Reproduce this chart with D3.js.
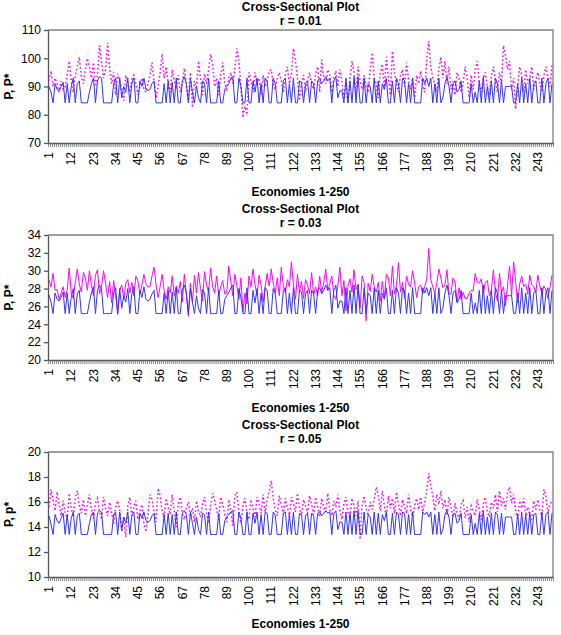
<!DOCTYPE html>
<html><head><meta charset="utf-8">
<script src="https://cdn.jsdelivr.net/npm/d3@7"></script>
<style>body{margin:0;background:#fff}svg{display:block}text{font-family:"Liberation Sans",Arial,sans-serif}</style>
</head><body>
<svg id="c" width="561" height="635"></svg>
<script>
const categories = d3.range(1, 251);
const xTickLabels = [1,12,23,34,45,56,67,78,89,100,111,122,133,144,155,166,177,188,199,210,221,232,243];
const titles = ["r = 0.01", "r = 0.03", "r = 0.05"];
const yTicks1 = [70,80,90,100,110];
const yTicks2 = [20,22,24,26,28,30,32,34];
const yTicks3 = [10,12,14,16,18,20];

const P_r01 = [
90,88,84.2,91,89,88.5,90,91.5,84.2,91,
84.2,90,93,84.2,91,92,84.2,84.2,84.2,84.2,
88,91,93,84.2,92,93.5,93,84.2,84.2,84.2,
84.2,84.2,91,93,84.2,93,86,90,88,93,
84.2,91,93,84.2,84.2,92,90,93,89,88.5,
89,91,92,84.2,84.2,84.2,84.2,91,84.2,92,
84.2,91.5,84.2,93,84.2,84.2,92,93.5,91,84.2,
93,88,84.2,90,86,84.2,92,91,84.2,93,
84.2,84.2,84.2,84.2,92,84.2,84.2,89,90,91,
93,93.5,84.2,84.2,93,90,84.2,84.2,93,84.2,
84.2,92,88,93,84.2,91,84.2,93,92,84.2,
84.2,93,91,84.2,84.2,84.2,92,93,84.2,91,
84.2,93,84.2,84.2,92,91.5,84.2,91,92,84.2,
92,91,84.2,92,93,91,92,93.5,92,93,
84.2,92,93.5,86,88.5,88.5,84.2,93,84.2,92,
84.2,93.5,84.2,93.5,84.2,84.2,93,84.2,91,90,
84.2,93,84.2,92,84.2,91,89,93,84.2,84.2,
92,84.2,93,91,84.2,93,92,84.2,91,84.2,
93,84.2,84.2,84.2,84.2,93,91,93,90,93,
84.2,91,84.2,93,84.2,86,91,93.5,90,84.2,
91,92,88,89,92,84.2,84.2,84.2,84.2,91,
84.2,88,84.2,92,84.2,93.5,84.2,90,84.2,92,
84.2,93,91,84.2,92,84.2,90,90,90,90,
84.2,84.2,91,84.2,93,84.2,91,84.2,93,84.2,
91,92,84.2,84.2,93,84.2,91,93,84.2,91];

const Pstar_r01 = [
92,95.5,90,93,91,88,92,89,90,94,
99,92,88,94,97,100.5,93,91,96,100,
97,93,98.5,90,94,104.5,99,93,96,105.5,
97,91,95,87,94.5,92,89,85,94,91,
88,92.5,94,91,87,90,93,89,88,91,
94,98.5,92,86,90,95,101.5,93,97,91,
88,96,92,90,94,88,91,96.5,90,85,
95,82.5,92,89,99,93,87,94.5,91,96,
101.5,98,90,93,87,94,98.5,91,89,93,
95,91,96,103.5,99,90,79,83,80,95,
92,88,95,91,93,87,94,90,92,95.5,
96,91,89,93,95,92,88,94,97,91,
94,103.5,99,93,85,91,94,88,92,95,
91,89,94.5,97,88,99.5,93,91,96,94,
88,93,95.5,90,96,92,86,91,84,93,
99,95,87,97,92,89,94,90,88,96,
102,93,91,86,95,98,89,100.5,93,87,
102.5,95,91,88,94,96,90,98.5,92,89,
93,86,94,91,95.5,90,88,100,106,97,
93,91,88,96,100.5,93,99,91,97,89,
92,87,95,93,88,91,97,93,86,94,
89,96,99,91,88,93,95,90,87,94,
97,92,88,95,91,104.5,101,96,99,89,
93,82,90,97,94,88,96,91,93,97,
89,92,95,91,88,94,97,93,90,98];

const P_r03 = [
27.3,26.5,25.2,27.5,26.8,26.6,27,27.6,25.2,27.5,
25.2,27,28,25.2,27.4,27.8,25.2,25.2,25.2,25.2,
26.5,27.5,28.2,25.2,27.8,28.4,28,25.2,25.2,25.2,
25.2,25.2,27.5,28.1,25.2,28,25.8,27.2,26.5,28,
25.2,27.4,28.2,25.2,25.2,27.8,27,28.2,26.8,26.6,
26.8,27.4,27.8,25.2,25.2,25.2,25.2,27.5,25.2,27.8,
25.2,27.6,25.2,28.1,25.2,25.2,27.8,28.4,27.5,25.2,
28,26.5,25.2,27.2,25.8,25.2,27.9,27.5,25.2,28.1,
25.2,25.2,25.2,25.2,27.8,25.2,25.2,26.8,27.2,27.5,
28.1,28.4,25.2,25.2,28,27,25.2,25.2,28.1,25.2,
25.2,27.8,26.4,28,25.2,27.5,25.2,28.1,27.8,25.2,
25.2,28,27.4,25.2,25.2,25.2,27.8,28.1,25.2,27.5,
25.2,28.1,25.2,25.2,27.8,27.6,25.2,27.4,27.8,25.2,
27.8,27.4,25.2,27.8,28.1,27.4,27.8,28.4,27.8,28.1,
25.2,27.8,28.4,25.8,26.6,26.6,25.2,28.1,25.2,27.8,
25.2,28.4,25.2,28.4,25.2,25.2,28.1,25.2,27.5,27.2,
25.2,28.1,25.2,27.8,25.2,27.5,26.8,28.1,25.2,25.2,
27.8,25.2,28.1,27.5,25.2,28.1,27.8,25.2,27.5,25.2,
28.1,25.2,25.2,25.2,25.2,28.1,27.5,28.1,27.2,28.1,
25.2,27.5,25.2,28.1,25.2,25.8,27.5,28.4,27.2,25.2,
27.5,27.8,26.4,26.8,27.8,25.2,25.2,25.2,25.2,27.5,
25.2,26.4,25.2,27.8,25.2,28.4,25.2,27.2,25.2,27.8,
25.2,28.1,27.5,25.2,27.8,25.2,27.2,27.2,27.2,27.2,
25.2,25.2,27.5,25.2,28.1,25.2,27.5,25.2,28.1,25.2,
27.5,27.8,25.2,25.2,28.1,25.2,27.5,28.1,25.2,27.8];

const Pstar_r03 = [
29,28.2,29.7,27.8,27.9,26.8,27.5,28.2,27,27.8,
30.3,27.5,26.9,28.7,30.2,28.5,27.6,29.8,29.2,27.8,
30,28.4,27.2,29.5,30.1,27.4,28.2,30,28.6,27,
28.8,26.4,28.9,27.2,25.1,27.8,28.4,26.8,28.6,29,
27.5,28.7,27.2,29.4,28.9,27.4,28.4,29.6,28.5,28.2,
28.2,29.4,30.4,28.4,27,28.2,29.6,27.8,26.8,28.2,
27.5,29.4,27.2,28.3,27.5,28.8,26.5,29.6,27.3,24.9,
28.6,26.4,29.5,27.5,29.8,28,26.6,29.9,28.4,27.6,
30.3,28.2,27.5,29.4,27.2,28.2,28.9,27.4,27.5,30.5,
28.8,27.2,29.6,28.3,26.8,29.2,25.4,27.5,26.3,29.4,
28.2,30.2,28.4,27.2,29.5,28.4,26.5,28.2,29.7,28.3,
30.2,28.6,27.5,29.2,27.2,30.4,28.3,27.5,29,28.2,
31,28.4,26.8,29.6,27.6,28.8,26.9,29,28.4,27.4,
29.8,27.3,28.2,27.2,29.4,27.6,28.6,30.2,27.8,28.5,
29.4,27.2,26.8,28.3,30.4,27.2,28.9,25.5,28.3,29.1,
27.6,30.1,27.9,28.5,25.8,29.4,28.7,24.4,28.6,27.7,
29.6,28.2,27.6,28.7,26.6,28.8,26.9,29.6,29.2,27.2,
30.5,27.4,28.3,30.9,27.6,28.7,26.9,29.4,28.5,28.2,
30,28.6,27,28.2,28.4,27.4,28.2,29.1,32.5,29,
28.2,27.5,28.6,30.2,29.2,28.1,28.4,30.1,27.4,27.4,
29.2,28.8,26.5,28.1,26.8,27.6,26.9,26.9,27.5,27.8,
27.8,29.7,28.7,28.6,29.1,27.5,28.7,28.9,27.2,27.8,
30.1,27.6,26.6,29.7,27.6,28.2,26.1,28.4,30.5,27.2,
31,28.8,26.4,28.5,29.4,28.2,28.5,27.4,29.5,28.4,
28.2,27.6,29.5,28.3,27.4,28.3,27.8,26.9,28.1,29.5];

const P_r05 = [
14.9,14.2,13.4,15,14.5,14.3,14.7,15.1,13.4,15,
13.4,14.7,15.2,13.4,14.9,15.1,13.4,13.4,13.4,13.4,
14.3,15,15.2,13.4,15.1,15.3,15.2,13.4,13.4,13.4,
13.4,13.4,15,15.2,13.4,15.2,13.8,14.8,14.3,15.2,
13.4,14.9,15.2,13.4,13.4,15.1,14.7,15.2,14.5,14.4,
14.5,14.9,15.1,13.4,13.4,13.4,13.4,15,13.4,15.1,
13.4,15,13.4,15.2,13.4,13.4,15.1,15.3,15,13.4,
15.2,14.3,13.4,14.8,13.8,13.4,15.1,15,13.4,15.2,
13.4,13.4,13.4,13.4,15.1,13.4,13.4,14.5,14.8,15,
15.2,15.3,13.4,13.4,15.2,14.7,13.4,13.4,15.2,13.4,
13.4,15.1,14.3,15.2,13.4,15,13.4,15.2,15.1,13.4,
13.4,15.2,14.9,13.4,13.4,13.4,15.1,15.2,13.4,15,
13.4,15.2,13.4,13.4,15.1,15,13.4,14.9,15.1,13.4,
15.1,14.9,13.4,15.1,15.2,14.9,15.1,15.3,15.1,15.2,
13.4,15.1,15.3,13.8,14.4,14.4,13.4,15.2,13.4,15.1,
13.4,15.3,13.4,15.3,13.4,13.4,15.2,13.4,15,14.8,
13.4,15.2,13.4,15.1,13.4,15,14.5,15.2,13.4,13.4,
15.1,13.4,15.2,15,13.4,15.2,15.1,13.4,15,13.4,
15.2,13.4,13.4,13.4,13.4,15.2,15,15.2,14.8,15.2,
13.4,15,13.4,15.2,13.4,13.8,15,15.3,14.8,13.4,
15,15.1,14.3,14.5,15.1,13.4,13.4,13.4,13.4,15,
13.4,14.3,13.4,15.1,13.4,15.3,13.4,14.8,13.4,15.1,
13.4,15.2,15,13.4,15.1,13.4,14.8,14.8,14.8,14.8,
13.4,13.4,15,13.4,15.2,13.4,15,13.4,15.2,13.4,
15,15.1,13.4,13.4,15.2,13.4,15,15.2,13.4,15.1];

const Pstar_r05 = [
15.6,17,16.2,15.3,16.8,15.8,14.9,16.1,15.2,14.6,
16.7,15.5,14.8,16.3,16.9,15.7,15.1,16.2,14.9,15.8,
16.6,15.4,14.7,15.9,16.3,15.2,14.6,16.4,15.5,14.9,
16,15.1,14.3,15.6,16.1,15.4,13.6,14.8,13.2,15.7,
16.4,14.9,15.6,16.1,14.6,15.3,15.8,14.2,13.6,15.1,
16.6,16.2,15.2,14.4,17.1,16.5,15.3,14.8,16.3,15.6,
15,16.6,15.2,14,15.9,16.4,15.1,14.6,15.5,16,
14.8,15.5,14.4,16.1,15.3,14.8,15.8,16.4,15.1,14.3,
15.7,16.7,16.1,15.4,14.6,16.4,15.8,15,14.4,16.2,
15.3,14.1,16.5,16.8,15.2,14.3,15.7,16.3,15.1,14.6,
16.2,15.5,14.8,16.4,15.9,15.1,16.6,15.2,16.1,16.9,
17.7,16.3,15.4,14.9,16.5,15.8,15,16.3,15.6,14.8,
16.4,15.9,15.2,16.7,15.5,14.9,16.2,15.7,15.1,16.5,
15.8,15,16.4,15.6,14.8,16.3,15.6,15.2,16.7,15.4,
14.9,16.1,15.6,16.6,15.3,14.6,15.9,16.4,15.2,14.7,
16.3,15.7,14.9,16.1,13,15.8,16.5,15.5,14.9,16,
15.4,16.2,17.2,16.6,15.3,16.9,15.7,14.8,16.5,15.5,
16.3,15.1,16.8,15.8,14.9,16.2,15.6,15.1,16.6,15.4,
14.8,15.7,16.3,15.4,16.4,15.2,16,16.9,18.3,17.3,
16.5,15.3,16.6,15.8,16.9,15.5,16.2,14.9,16.4,15.6,
14.8,15.9,15.1,14.6,15.8,16.1,14.7,15.6,14.4,15.7,
15.3,14.9,16.2,15.4,14.6,15.8,16.4,15.2,14.8,16,
15.5,16.6,15.2,16.9,15.7,16.3,15.4,16.8,17.2,15.9,
16.6,15.3,14.7,16.1,15.5,16.3,14.9,15.6,15,14.6,
16.1,15.4,16.2,15.3,14.9,17,16.4,15.1,15.8,16.1];

const panels = [
  {r: titles[0], yl: "P, P*", P: P_r01, Ps: Pstar_r01, yt: yTicks1, top: 30, bottom: 143, t1: 10.5, t2: 24.5, xt: 196, dotted: true},
  {r: titles[1], yl: "P, P*", P: P_r03, Ps: Pstar_r03, yt: yTicks2, top: 235, bottom: 360, t1: 213, t2: 227, xt: 412, dotted: false},
  {r: titles[2], yl: "P, p*", P: P_r05, Ps: Pstar_r05, yt: yTicks3, top: 452, bottom: 577, t1: 429, t2: 443, xt: 628, dotted: true}
];

const svg = d3.select("#c");
const L = 48, R = 553;
const BLUE = "#3333ff", MAG = "#ff00ff";

const x = d3.scaleBand().domain(categories).range([L, R]).paddingInner(0).paddingOuter(0);
const xEdge = d3.scaleLinear().domain([0, 250]).range([L, R]);

panels.forEach(p => {
  const g = svg.append("g");
  const y = d3.scaleLinear().domain([p.yt[0], p.yt[p.yt.length - 1]]).range([p.bottom, p.top]);
  const cx = (L + R) / 2;

  g.append("text").attr("x", cx).attr("y", p.t1).attr("text-anchor", "middle")
    .attr("font-size", 12).attr("font-weight", "bold").text("Cross-Sectional Plot");
  g.append("text").attr("x", cx).attr("y", p.t2).attr("text-anchor", "middle")
    .attr("font-size", 12).attr("font-weight", "bold").text(p.r);

  g.append("path").attr("d", `M${L},${p.top}H${R}V${p.bottom}`)
    .attr("fill", "none").attr("stroke", "#808080").attr("stroke-width", 1.3);

  const ya = g.append("g").attr("transform", `translate(${L},0)`)
    .call(d3.axisLeft(y).tickValues(p.yt).tickSize(4).tickPadding(3).tickSizeOuter(0));
  ya.selectAll("text").attr("font-size", 12).attr("fill", "#000")
    .style("font-family", "'Liberation Sans', Arial, sans-serif");
  ya.selectAll("line,path").attr("stroke", "#555").attr("stroke-width", 1.3);

  g.append("text").attr("transform", `translate(13,${(p.top + p.bottom) / 2}) rotate(-90)`)
    .attr("text-anchor", "middle").attr("font-size", 12).attr("font-weight", "bold").text(p.yl);

  const xm = g.append("g").attr("transform", `translate(0,${p.bottom})`)
    .call(d3.axisBottom(xEdge).tickValues(d3.range(0, 251)).tickSize(4).tickFormat("").tickSizeOuter(0));
  xm.selectAll("line").attr("stroke", "#666").attr("stroke-width", 0.8);
  xm.select("path").attr("stroke", "#555").attr("stroke-width", 1.3);

  const xa = g.append("g").attr("transform", `translate(0,${p.bottom})`)
    .call(d3.axisBottom(x).tickValues(xTickLabels).tickSize(0).tickPadding(0));
  xa.select("path").remove();
  xa.selectAll("text").attr("font-size", 12).attr("fill", "#000")
    .style("font-family", "'Liberation Sans', Arial, sans-serif")
    .attr("transform", "translate(0,9) rotate(-90)")
    .attr("text-anchor", "end").attr("dy", "0.35em").attr("y", 0).attr("x", 0);

  g.append("text").attr("x", cx).attr("y", p.xt).attr("text-anchor", "middle")
    .attr("font-size", 12).attr("font-weight", "bold").text("Economies 1-250");

  const line = d3.line().x((d, i) => x(categories[i]) + x.bandwidth() / 2).y(d => y(d));

  g.append("path").datum(p.Ps).attr("d", line).attr("fill", "none")
    .attr("stroke", MAG).attr("stroke-width", p.dotted ? 1.5 : 1)
    .attr("stroke-dasharray", p.dotted ? "1.6,2.4" : null);
  g.append("path").datum(p.P).attr("d", line).attr("fill", "none")
    .attr("stroke", BLUE).attr("stroke-width", 1);
});
</script>
</body></html>
